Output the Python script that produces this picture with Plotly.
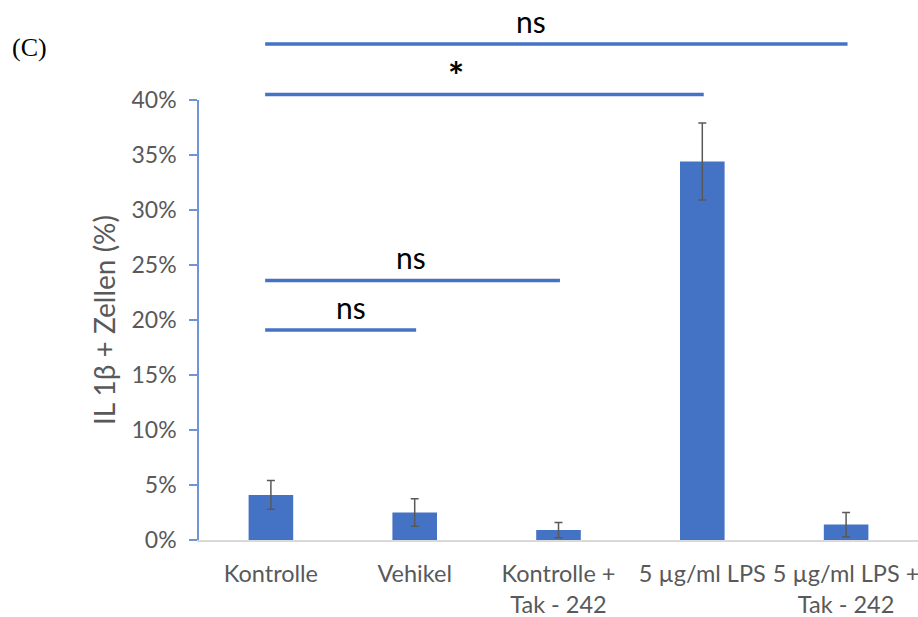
import plotly.graph_objects as go

# Gruppen und Messwerte (Anteil IL-1β-positiver Zellen in %)
categories = ["Kontrolle", "Vehikel", "Kontrolle +<br>Tak - 242",
              "5 µg/ml LPS", "5 µg/ml LPS +<br>Tak - 242"]
values = [4.1, 2.5, 0.9, 34.4, 1.4]
errors = [1.3, 1.25, 0.7, 3.5, 1.1]

# Signifikanzvergleiche: Kontrolle gegen Gruppe (Index), Höhe in %, Beschriftung
sig_targets = [1, 2, 3, 4]
sig_heights = [19.1, 23.6, 40.5, 45.1]
sig_labels = ["ns", "ns", "*", "ns"]
sig_label_x = [0.56, 0.975, 1.29, 1.81]

y_ticks = [0, 5, 10, 15, 20, 25, 30, 35, 40]
y_max = 40

blue = "#4472C4"
axis_blue = "#6f95d6"
grey_text = "#595959"
font_family = "Lato, 'Open Sans', sans-serif"

fig = go.Figure()
fig.add_trace(go.Bar(
    x=list(range(len(categories))),
    y=values,
    width=0.31,
    marker=dict(color=blue, line=dict(width=0)),
    error_y=dict(type="data", array=errors, visible=True,
                 color="#595959", thickness=1.5, width=4),
    hoverinfo="skip",
))

shapes = []
annotations = []
for tgt, h, lab, lx in zip(sig_targets, sig_heights, sig_labels, sig_label_x):
    yp = h / y_max
    shapes.append(dict(type="line", xref="x", yref="paper",
                       x0=-0.04, x1=tgt + 0.01, y0=yp, y1=yp,
                       line=dict(color=blue, width=3.5)))
    is_star = lab == "*"
    annotations.append(dict(xref="x", yref="paper", x=lx,
                            y=yp, yshift=-5 if is_star else 3,
                            text=f"<b>{lab}</b>" if is_star else lab,
                            showarrow=False, yanchor="bottom",
                            font=dict(family=font_family, size=38 if is_star else 30,
                                      color="black")))

annotations.append(dict(xref="paper", yref="paper", x=-189 / 719, y=(540 - 47) / 440,
                        xanchor="left", yanchor="middle", text="(C)", showarrow=False,
                        font=dict(family="'Liberation Serif', 'Times New Roman', serif",
                                  size=26, color="black")))

fig.update_layout(
    width=918, height=617,
    margin=dict(l=199, r=0, t=100, b=77),
    paper_bgcolor="white", plot_bgcolor="white",
    showlegend=False,
    shapes=shapes,
    annotations=annotations,
    font=dict(family=font_family, color=grey_text),
    xaxis=dict(
        range=[-0.5, 4.5],
        tickvals=list(range(len(categories))),
        ticktext=categories,
        tickfont=dict(size=23.5, color=grey_text),
        ticklabelstandoff=12,
        ticklabeloverflow="allow",
        showline=True, linecolor="#d9d9d9", linewidth=1.5,
        showgrid=False, zeroline=False, ticks="",
    ),
    yaxis=dict(
        range=[0, y_max],
        tickvals=y_ticks,
        ticktext=[f"{v}%" for v in y_ticks],
        tickfont=dict(size=23, color=grey_text),
        ticklabelstandoff=8,
        showline=True, linecolor=axis_blue, linewidth=1.5,
        ticks="outside", ticklen=8, tickcolor=axis_blue, tickwidth=1.5,
        showgrid=False, zeroline=False,
        title=dict(text="IL 1β + Zellen (%)", standoff=8,
                   font=dict(size=28, color=grey_text)),
    ),
)

fig.write_html("out.html")
